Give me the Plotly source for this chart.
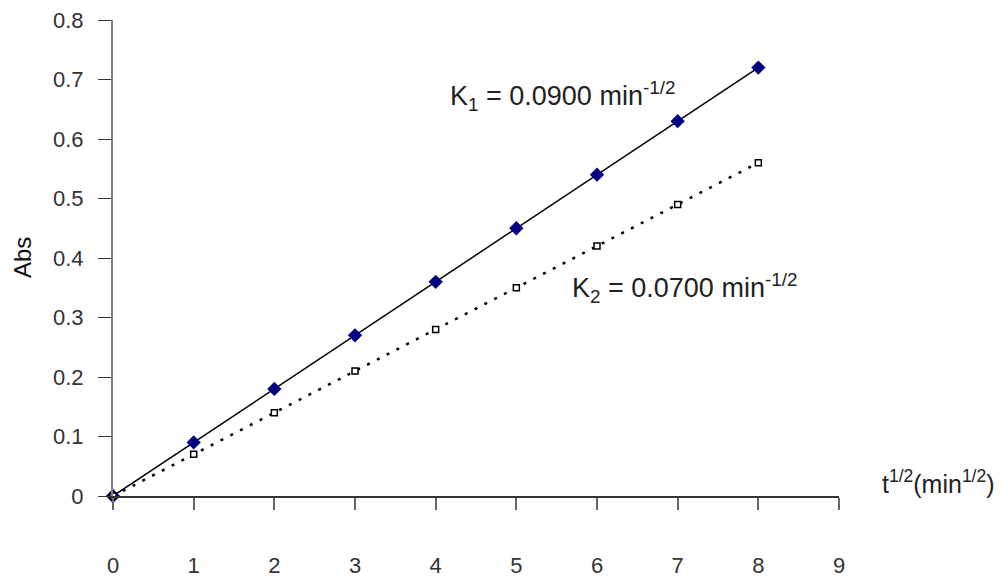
import plotly.graph_objects as go

t_sqrt = [0, 1, 2, 3, 4, 5, 6, 7, 8]
abs_k1 = [0, 0.09, 0.18, 0.27, 0.36, 0.45, 0.54, 0.63, 0.72]
abs_k2 = [0, 0.07, 0.14, 0.21, 0.28, 0.35, 0.42, 0.49, 0.56]
x_ticks = [0, 1, 2, 3, 4, 5, 6, 7, 8, 9]
y_ticks = [0, 0.1, 0.2, 0.3, 0.4, 0.5, 0.6, 0.7, 0.8]
y_ticklabels = ["0", "0.1", "0.2", "0.3", "0.4", "0.5", "0.6", "0.7", "0.8"]

FONT = "Liberation Sans, Arial, sans-serif"
W, H = 1002, 579
ML, MR, MT, MB = 113, 163, 20, 83

fig = go.Figure()
fig.add_trace(go.Scatter(
    x=t_sqrt, y=abs_k1, mode="lines+markers", cliponaxis=False,
    line=dict(color="black", width=1.5),
    marker=dict(symbol="diamond", size=11, color="#000080"),
    name="K1"))
fig.add_trace(go.Scatter(
    x=t_sqrt, y=abs_k2, mode="lines+markers", cliponaxis=False,
    line=dict(color="black", width=2.5, dash="3px,8px"),
    marker=dict(symbol="square", size=6, color="white",
                line=dict(color="black", width=1.5)),
    name="K2"))

fig.add_annotation(x=4.15, y=0.672, xref="x", yref="y", xanchor="left", yanchor="middle",
                   text="K<sub>1</sub> = 0.0900 min<sup>-1/2</sup>", showarrow=False,
                   font=dict(family=FONT, size=27, color="#222"))
fig.add_annotation(x=5.66, y=0.35, xref="x", yref="y", xanchor="left", yanchor="middle",
                   text="K<sub>2</sub> = 0.0700 min<sup>-1/2</sup>", showarrow=False,
                   font=dict(family=FONT, size=27, color="#222"))
fig.add_annotation(x=(938 - ML) / (W - ML - MR), y=(H - MB - 482) / (H - MT - MB),
                   xref="paper", yref="paper", xanchor="center", yanchor="middle",
                   text="t<sup>1/2</sup>(min<sup>1/2</sup>)", showarrow=False,
                   font=dict(family=FONT, size=25, color="#222"))
fig.add_annotation(x=(22 - ML) / (W - ML - MR), y=(H - MB - 258) / (H - MT - MB),
                   xref="paper", yref="paper",
                   text="Abs", textangle=-90, showarrow=False,
                   xanchor="center", yanchor="middle",
                   font=dict(family=FONT, size=24, color="#111"))

fig.update_layout(
    width=W, height=H,
    margin=dict(l=ML, r=MR, t=MT, b=MB),
    paper_bgcolor="white", plot_bgcolor="white",
    showlegend=False,
    font=dict(family=FONT, size=22, color="#333"),
    xaxis=dict(range=[0, 9], tickvals=x_ticks, showgrid=False, zeroline=False,
               automargin=False,
               showline=True, linecolor="#333", linewidth=1.5,
               ticks="outside", ticklen=12, tickcolor="#666", tickwidth=1.5,
               ticklabelstandoff=37, tickfont=dict(size=22, color="#333")),
    yaxis=dict(range=[0, 0.8], tickvals=y_ticks, ticktext=y_ticklabels,
               showgrid=False, zeroline=False, automargin=False,
               showline=True, linecolor="#808080", linewidth=2,
               ticks="outside", ticklen=13, tickcolor="#333", tickwidth=1.2,
               ticklabelstandoff=10, tickfont=dict(size=22, color="#333")),
)

fig.write_html("out.html", config={"displayModeBar": False},
               post_script="document.body.style.margin='0px';document.body.style.padding='0px';")
